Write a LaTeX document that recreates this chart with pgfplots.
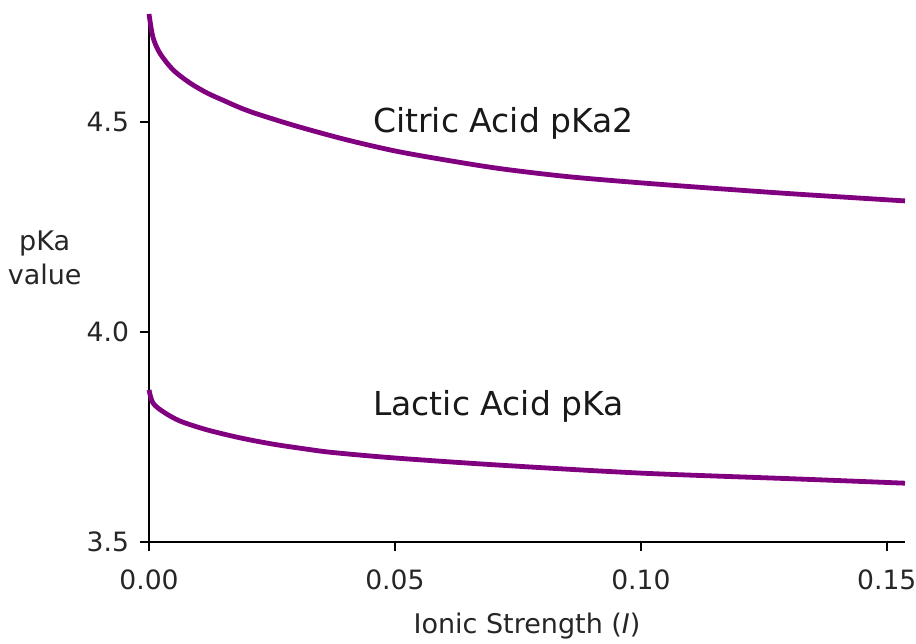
\documentclass[border=0pt]{standalone}
\usepackage{fontspec}
\setmainfont{DejaVu Sans}
\usepackage{pgfplots}
\pgfplotsset{compat=1.18}
\definecolor{curve}{RGB}{128,0,128}

\begin{document}
\begin{tikzpicture}
  % page = 916x643 px at 0.5pt per px; axis origin at px (149,542)
  \useasboundingbox (-74.5pt,-50.5pt) rectangle (383.5pt,271pt);
  \begin{axis}[
      at={(0,0)}, anchor=south west,
      scale only axis,
      width=378pt, height=264pt,
      xmin=0, xmax=0.1537,
      ymin=3.5, ymax=4.757,
      axis x line*=bottom, axis y line*=left,
      axis line style={line width=1.2pt, -},
      tick align=outside,
      major tick length=4.5pt,
      tick style={line width=1.2pt, black},
      xtick={0,0.05,0.10,0.15},
      ytick={3.5,4.0,4.5},
      /pgf/number format/assume math mode=true,
      xticklabel={\pgfmathprintnumber[fixed,fixed zerofill,precision=2]{\tick}},
      yticklabel={\pgfmathprintnumber[fixed,fixed zerofill,precision=1]{\tick}},
      tick label style={font=\fontsize{13.3}{15}\selectfont, text=black!85},
      xticklabel style={yshift=-6pt},
      yticklabel style={xshift=-2pt},
      xlabel={Ionic Strength (\textit{I})},
      ylabel={pKa\\value},
      label style={font=\fontsize{13.5}{17}\selectfont, text=black!85},
      xlabel style={at={(axis description cs:0.500,-0.160)}, anchor=center},
      ylabel style={rotate=-90, align=center, at={(axis description cs:-0.138,0.538)}, anchor=center},
      clip=false,
    ]
    % Citric acid pKa2
    \addplot[curve, line width=2.4pt, smooth, tension=0.5] coordinates {
      (0,4.757) (0.0008,4.702) (0.0022,4.664) (0.0049,4.624) (0.0083,4.593)
      (0.0118,4.569) (0.0150,4.552) (0.0185,4.534) (0.0220,4.519) (0.030,4.490)
      (0.040,4.458) (0.050,4.431) (0.060,4.410) (0.0713,4.389) (0.0850,4.370)
      (0.100,4.355) (0.116,4.341) (0.132,4.328) (0.1537,4.312)
    };
    % Lactic acid pKa
    \addplot[curve, line width=2.4pt, smooth, tension=0.5] coordinates {
      (0,3.862) (0.0008,3.831) (0.0029,3.810) (0.0063,3.788) (0.0118,3.767)
      (0.0185,3.748) (0.0252,3.733) (0.0321,3.721) (0.0374,3.713) (0.050,3.700)
      (0.0713,3.683) (0.100,3.664) (0.132,3.650) (0.1537,3.640)
    };
    \node[anchor=base west, inner sep=0pt, font=\fontsize{16.5}{19}\selectfont, text=black!90]
      at (axis cs:0.0455,4.474) {Citric Acid pKa2};
    \node[anchor=base west, inner sep=0pt, font=\fontsize{16.5}{19}\selectfont, text=black!90]
      at (axis cs:0.0455,3.800) {Lactic Acid pKa};
  \end{axis}
\end{tikzpicture}
\end{document}
